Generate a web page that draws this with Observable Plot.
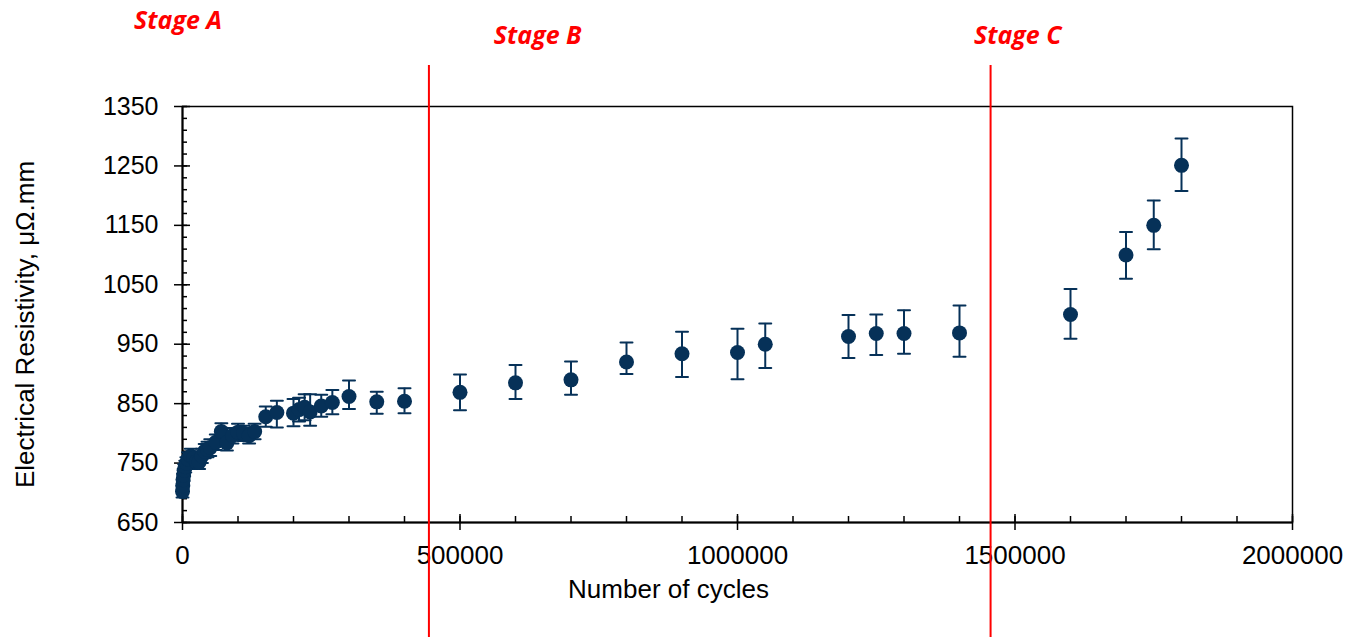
<!DOCTYPE html>
<html><head><meta charset="utf-8">
<script src="https://cdn.jsdelivr.net/npm/d3@7"></script>
<script src="https://cdn.jsdelivr.net/npm/@observablehq/plot@0.6"></script>
<style>body{margin:0;background:#fff}</style>
</head><body><div id="chart"></div>
<script>
// ---- data ----
const cycles = [0, 500, 1000, 2000, 3000, 5000, 7000, 10000, 15000, 20000, 25000, 30000, 35000, 40000, 45000, 50000, 60000, 70000, 80000, 90000, 100000, 110000, 120000, 130000, 150000, 170000, 200000, 210000, 220000, 230000, 250000, 270000, 300000, 350000, 400000, 500000, 600000, 700000, 800000, 900000, 1000000, 1050000, 1200000, 1250000, 1300000, 1400000, 1600000, 1700000, 1750000, 1800000];
const resistivity = [702, 712, 722, 730, 738, 744, 750, 757, 762, 758, 752, 752, 762, 770, 773, 776, 785, 803, 784, 796, 802, 800, 796, 803, 828, 835, 834, 840, 844, 836, 846, 852, 862, 853, 854, 869, 885, 890, 920, 934, 936, 950, 963, 968, 968, 969, 1000, 1100, 1150, 1251];
const errLow = [692, 702, 712, 720, 728, 734, 740, 746, 750, 746, 740, 740, 750, 758, 760, 762, 772, 791, 771, 783, 789, 787, 783, 790, 811, 810, 812, 820, 822, 813, 828, 832, 841, 833, 834, 839, 858, 865, 900, 895, 891, 910, 927, 932, 934, 929, 959, 1060, 1110, 1208];
const errHigh = [712, 722, 732, 740, 748, 754, 760, 768, 774, 770, 764, 764, 774, 782, 786, 790, 798, 817, 797, 809, 816, 813, 809, 816, 845, 855, 858, 860, 866, 866, 865, 873, 889, 870, 876, 899, 915, 921, 953, 971, 976, 985, 999, 1000, 1007, 1015, 1043, 1139, 1192, 1296];

const stageBoundaries = [444000, 1456000];
const stageNames = ["Stage A", "Stage B", "Stage C"];
const stageLabelX = [-8000, 640000, 1505000];

const xMajorTicks = [0, 500000, 1000000, 1500000, 2000000];
const xMinorTicks = d3.range(0, 2000001, 100000);
const yMajorTicks = [650, 750, 850, 950, 1050, 1150, 1250, 1350];
const yMinorTicks = d3.range(650, 1351, 20);

const xTitle = "Number of cycles";
const yTitle = "Electrical Resistivity, μΩ.mm";

// ---- build table ----
const data = cycles.map((c, i) => ({x: c, y: resistivity[i], lo: errLow[i], hi: errHigh[i]}));
const stages = stageNames.map((n, i) => ({name: n, x: stageLabelX[i]}));

const navy = "#063158";
const capShape = {draw(ctx, l) { ctx.moveTo(0, 0); ctx.lineTo(0, -l); }};
const blank = () => "";

const chart = Plot.plot({
  width: 1345,
  height: 637,
  marginLeft: 182,
  marginRight: 53,
  marginTop: 106,
  marginBottom: 115,
  style: {fontFamily: "'Liberation Sans', Arial, sans-serif", color: "black", background: "white"},
  x: {domain: [0, 2000000]},
  y: {domain: [650, 1350]},
  marks: [
    Plot.frame({stroke: "black", strokeWidth: 1.5}),
    Plot.ruleY([650], {stroke: "black", strokeWidth: 2}),
    Plot.ruleX([0], {stroke: "black", strokeWidth: 2}),
    Plot.axisX({ticks: xMajorTicks, tickSize: 8, tickPadding: 15, tickFormat: d3.format("d"), fontSize: 26, label: null, strokeWidth: 1.5}),
    Plot.axisX({ticks: xMajorTicks, tickSize: -8, tickFormat: blank, label: null, strokeWidth: 1.5}),
    Plot.axisX({ticks: xMinorTicks, tickSize: -6, tickFormat: blank, label: null, strokeWidth: 1.5}),
    Plot.axisY({ticks: yMajorTicks, tickSize: 8, tickPadding: 16, tickFormat: d3.format("d"), fontSize: 25, label: null, strokeWidth: 1.5}),
    Plot.axisY({ticks: yMajorTicks, tickSize: -8, tickFormat: blank, label: null, strokeWidth: 1.5}),
    Plot.axisY({ticks: yMinorTicks, tickSize: -5, tickFormat: blank, label: null, strokeWidth: 1.5}),
    // error bars
    Plot.ruleX(data, {x: "x", y1: "lo", y2: "hi", stroke: navy, strokeWidth: 2}),
    Plot.vector(data, {x: "x", y: "hi", length: 12, rotate: 90, anchor: "middle", shape: capShape, stroke: navy, strokeWidth: 2}),
    Plot.vector(data, {x: "x", y: "lo", length: 12, rotate: 90, anchor: "middle", shape: capShape, stroke: navy, strokeWidth: 2}),
    Plot.dot(data, {x: "x", y: "y", r: 7.5, fill: navy, stroke: null}),
    // axis titles
    Plot.text([xTitle], {frameAnchor: "bottom", textAnchor: "middle", dx: -69, dy: 75, lineAnchor: "bottom", fontSize: 26, fill: "black"}),
    Plot.text([yTitle], {frameAnchor: "left", textAnchor: "middle", rotate: -90, dx: -149, dy: 10, lineAnchor: "bottom", fontSize: 26, fill: "black"}),
    // stage boundaries and labels
    Plot.ruleX(stageBoundaries, {stroke: "#ff0000", strokeWidth: 2, insetTop: -41, insetBottom: -115}),
    Plot.text(stages.slice(0, 1), {x: "x", text: "name", frameAnchor: "top", dy: -78, lineAnchor: "bottom", fill: "#ff0000", fontFamily: "'Open Sans', sans-serif", fontWeight: "bold", fontStyle: "italic", fontSize: 25}),
    Plot.text(stages.slice(1), {x: "x", text: "name", frameAnchor: "top", dy: -63, lineAnchor: "bottom", fill: "#ff0000", fontFamily: "'Open Sans', sans-serif", fontWeight: "bold", fontStyle: "italic", fontSize: 25})
  ]
});
document.getElementById("chart").appendChild(chart);
</script>
</body></html>
